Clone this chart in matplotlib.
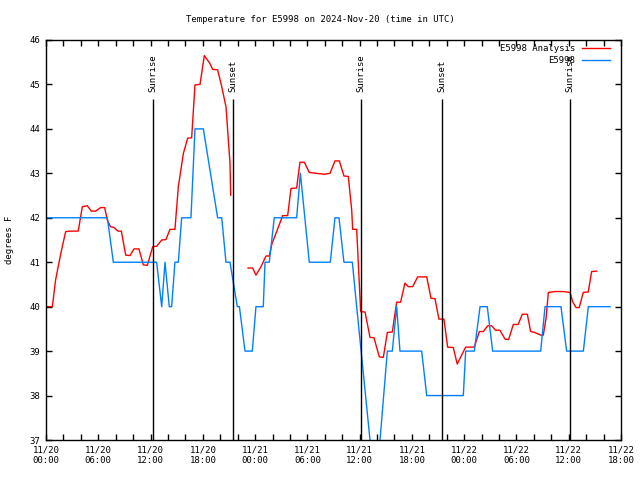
import numpy as np
import matplotlib
matplotlib.use('Agg')
import matplotlib.pyplot as plt
from matplotlib.ticker import MultipleLocator
from datetime import datetime, timedelta

plt.rcParams['font.family'] = ['DejaVu Sans Mono']
plt.rcParams['font.size'] = 6.5

start = datetime(2024, 11, 20, 0, 0)

# hours after 2024-11-20 00:00 UTC (nan = gap in the analysis)
analysis_hours = [0.0, 0.73, 1.1, 1.7, 2.26, 2.83, 3.7, 4.17, 4.74, 5.2, 5.7, 6.28, 6.73,
                  7.04, 7.4, 7.8, 8.26, 8.65, 9.15, 9.64, 10.1, 10.67, 11.17, 11.63, 12.25,
                  12.7, 13.28, 13.77, 14.23, 14.8, 15.19, 15.77, 16.26, 16.72, 17.1, 17.68,
                  18.17, 18.82, 19.13, 19.7, 20.17, 20.66, 20.93, 21.12, 21.2,
                  22.0,
                  23.19, 23.72, 24.1, 24.68, 25.25, 25.63, 25.94, 26.4, 27.17, 27.74, 28.12,
                  28.77, 29.15, 29.65, 30.22, 30.99, 31.95, 32.6, 33.17, 33.67, 34.2, 34.7,
                  35.09, 35.2, 35.66, 35.85, 36.12, 36.62, 37.19, 37.65, 38.26, 38.72, 39.18,
                  39.75, 40.25, 40.7, 41.2, 41.59, 42.09, 42.66, 43.7, 44.19, 44.65, 45.1,
                  45.68, 46.1, 46.75, 47.2, 48.17, 49.16, 49.74, 50.2, 50.7, 51.15, 51.6,
                  52.1, 52.69, 53.1, 53.64, 54.2, 54.67, 55.25, 55.63, 56.1, 56.78, 57.08,
                  57.4, 57.66, 58.42, 59.38, 60.15, 60.45, 60.84, 61.2, 61.67, 62.24, 62.63,
                  63.2]
analysis_temp = [40.0, 40.0, 40.6, 41.2, 41.69, 41.7, 41.7, 42.25, 42.27, 42.15, 42.15, 42.23,
                 42.23, 41.95, 41.8, 41.78, 41.7, 41.7, 41.16, 41.15, 41.3, 41.3, 40.94, 40.93,
                 41.35, 41.36, 41.5, 41.51, 41.74, 41.74, 42.7, 43.45, 43.79, 43.8, 44.99, 45.0,
                 45.65, 45.47, 45.34, 45.33, 44.95, 44.5, 43.75, 43.23, 42.51,
                 np.nan,
                 40.87, 40.87, 40.71, 40.9, 41.14, 41.14, 41.42, 41.65, 42.05, 42.05, 42.66,
                 42.67, 43.25, 43.25, 43.02, 43.0, 42.98, 43.0, 43.28, 43.28, 42.94, 42.93,
                 42.17, 41.74, 41.74, 40.97, 39.89, 39.88, 39.31, 39.3, 38.87, 38.86, 39.42,
                 39.43, 40.1, 40.1, 40.53, 40.45, 40.45, 40.67, 40.67, 40.19, 40.18, 39.72,
                 39.72, 39.09, 39.08, 38.71, 39.09, 39.09, 39.44, 39.44, 39.57, 39.57, 39.47,
                 39.47, 39.27, 39.26, 39.6, 39.6, 39.83, 39.83, 39.44, 39.42, 39.36, 39.36,
                 39.74, 40.32, 40.34, 40.34, 40.32, 40.11, 39.98, 39.98, 40.32, 40.33, 40.79,
                 40.8]

obs_hours = [0.0, 7.04, 7.73, 12.7, 13.28, 13.66, 14.15, 14.42, 14.8, 15.19, 15.57, 16.64,
             17.1, 18.06, 19.7, 20.17, 20.66, 21.12, 21.96, 22.2, 22.84, 23.68, 24.1, 24.94,
             25.14, 25.63, 26.2, 28.77, 29.2, 30.22, 32.63, 33.17, 33.63, 34.2, 35.16, 35.66,
             37.7, 37.9, 38.34, 39.18, 39.75, 40.25, 40.63, 43.12, 43.7, 47.9, 48.17, 49.16,
             49.82, 50.65, 51.27, 56.78, 57.28, 59.11, 59.76, 61.68, 62.25, 64.74]
obs_temp = [42, 42, 41, 41, 40, 41, 40, 40, 41, 41, 42, 42, 44, 44, 42, 42, 41, 41, 40, 40,
            39, 39, 40, 40, 41, 41, 42, 42, 43, 41, 41, 42, 42, 41, 41, 40, 36, 36, 37, 39,
            39, 40, 39, 39, 38, 38, 39, 39, 40, 40, 39, 39, 40, 40, 39, 39, 40, 40]

sunrise_hours = [12.28, 36.17, 60.16]
sunset_hours = [21.47, 45.46]

fig = plt.figure(figsize=(6.4, 4.8), dpi=100)
ax = fig.add_axes([46 / 640, 1 - 440 / 480, 575 / 640, 400 / 480])

ax.plot(analysis_hours, analysis_temp, color='#ff0000', lw=1.0, label='E5998 Analysis')
ax.plot(obs_hours, obs_temp, color='#0080ff', lw=1.0, label='E5998')

# sunrise / sunset markers
for h in sunrise_hours:
    ax.vlines(h, 37, 44.67, color='black', lw=1.0)
    ax.text(h, 44.83, 'Sunrise', rotation=90, ha='center', va='bottom')
for h in sunset_hours:
    ax.vlines(h, 37, 44.67, color='black', lw=1.0)
    ax.text(h, 44.83, 'Sunset', rotation=90, ha='center', va='bottom')

ax.set_xlim(0, 66)
ax.set_ylim(37, 46)

xt = list(range(0, 67, 6))
ax.set_xticks(xt)
ax.set_xticklabels([(start + timedelta(hours=h)).strftime('%m/%d\n%H:%M') for h in xt])
ax.xaxis.set_minor_locator(MultipleLocator(2))
ax.set_yticks(range(37, 47))
ax.tick_params(which='both', direction='in', length=4, width=1,
               top=True, right=True, pad=4)

for s in ax.spines.values():
    s.set_linewidth(1.0)

ax.legend(loc='upper right', bbox_to_anchor=(1 - 9 / 575, 1 - 2 / 400),
          frameon=False, markerfirst=False, handlelength=3.1,
          handletextpad=0.75, labelspacing=0.4, borderaxespad=0, borderpad=0.2)

fig.text(0.5, 1 - 20 / 480, 'Temperature for E5998 on 2024-Nov-20 (time in UTC)',
         ha='center', va='center')
fig.text(10 / 640, 0.5, 'degrees F', rotation=90, ha='center', va='center')

fig.savefig('out.png', dpi=100)
